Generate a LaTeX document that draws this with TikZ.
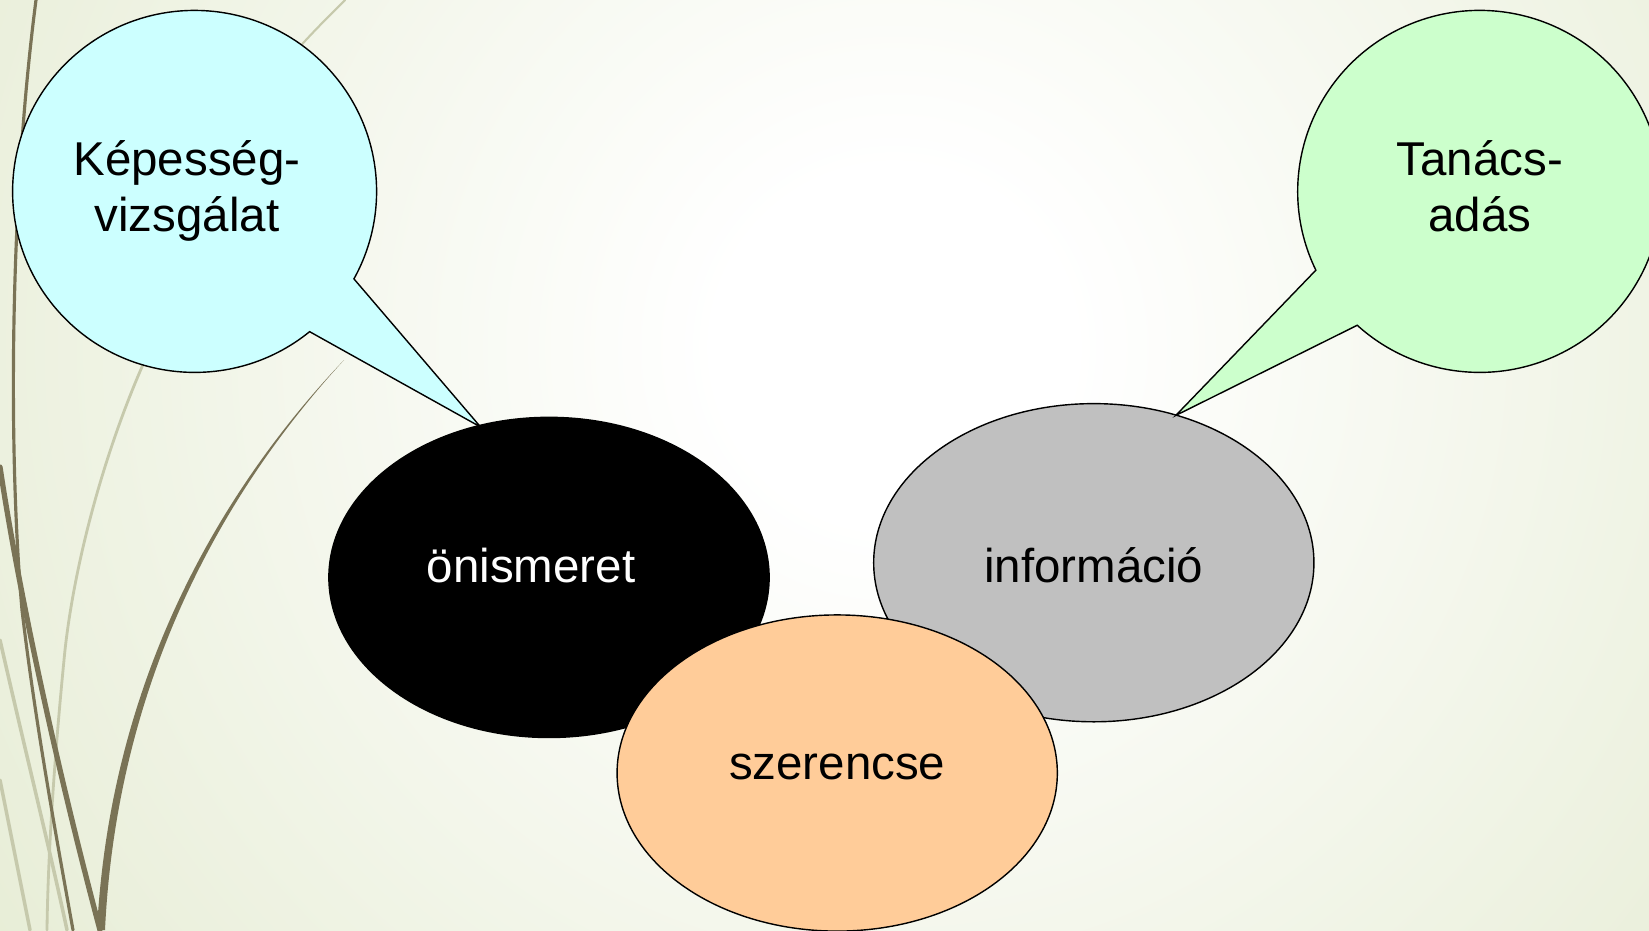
\documentclass[tikz,border=0pt]{standalone}
\usepackage{fontspec}
\setmainfont{Liberation Sans}
\usetikzlibrary{shapes.geometric,calc}
\definecolor{bgouter}{RGB}{223,231,200}
\definecolor{cyanfill}{RGB}{204,255,255}
\definecolor{greenfill}{RGB}{204,255,204}
\definecolor{greyfill}{RGB}{192,192,192}
\definecolor{orangefill}{RGB}{255,204,153}
\definecolor{stemdark}{RGB}{122,115,86}
\definecolor{stemlight}{RGB}{198,201,172}
\pgfdeclareradialshading{bgshade}{\pgfpoint{0bp}{0bp}}{color(0bp)=(white); color(4bp)=(white); color(32bp)=(bgouter); color(50bp)=(bgouter)}
\begin{document}
\begin{tikzpicture}[x=0.01cm,y=-0.01cm,
  oval/.style={ellipse, draw=black, line width=0.4pt, inner sep=0pt},
  bubble/.style={draw=black, line width=0.4pt, line join=miter},
  lbl/.style={font=\fontsize{13.5}{15.9}\selectfont, align=center, inner sep=0pt, anchor=base},
  stemd/.style={draw=stemdark, line cap=round},
  steml/.style={draw=stemlight, line cap=round}]
\useasboundingbox (0,0) rectangle (1649,930);
\clip (0,0) rectangle (1649,930);
\shade[shading=bgshade] (894,347) circle[radius=1100];
% decorative stems
\draw[steml, line width=0.6pt] (345,0) .. controls (320,25) and (300,45) .. (280,70);
\draw[steml, line width=0.8pt] (145,360) .. controls (105,450) and (75,560) .. (65,650) .. controls (55,750) and (48,850) .. (47,930);
\draw[steml, line width=1pt] (0,640) .. controls (25,750) and (50,850) .. (67,930);
\draw[steml, line width=1pt] (0,780) .. controls (12,840) and (22,890) .. (30,930);
\draw[stemd, line width=0.9pt] (36,0) .. controls (10,200) and (8,450) .. (22,610) .. controls (35,720) and (55,830) .. (73,930);
\draw[stemd, line width=1.5pt] (0,467) .. controls (20,600) and (60,780) .. (100,930);
\fill[stemdark] (344,360) .. controls (220,490) and (110,680) .. (97,930) -- (105,930) .. controls (117,680) and (223,492) .. (344,360) -- cycle;
% ellipses
\node[oval, fill=black, minimum width=4.40cm, minimum height=3.20cm] (oni) at (549,577.4) {};
\node[oval, fill=greyfill, minimum width=4.40cm, minimum height=3.18cm] (inf) at (1093.8,562.7) {};
\node[oval, fill=orangefill, minimum width=4.40cm, minimum height=3.16cm] (sze) at (837.2,773) {};
% bubbles
\coordinate (lc) at (194.6,191.4);
\coordinate (ltip) at (480.6,427);
\draw[bubble, fill=cyanfill] (lc) ++(50.8:182 and 181) arc[start angle=50.8, end angle=388.9, x radius=182, y radius=181] -- (ltip) -- cycle;
\coordinate (rc) at (1479.7,191.4);
\coordinate (rtip) at (1175.8,415.4);
\draw[bubble, fill=greenfill] (rc) ++(154.2:182 and 181) arc[start angle=154.2, end angle=492.3, x radius=182, y radius=181] -- (rtip) -- cycle;
% labels (base anchor = baseline of last line)
\node[lbl] (t1) at (187,231.4) {Képesség-\\vizsgálat};
\node[lbl] (t2) at (1479.7,231.4) {Tanács-\\adás};
\node[lbl, text=white] (t3) at (531,582.6) {önismeret};
\node[lbl] (t4) at (1093.8,582.6) {információ};
\node[lbl] (t5) at (837.2,779.3) {szerencse};
\end{tikzpicture}
\end{document}
